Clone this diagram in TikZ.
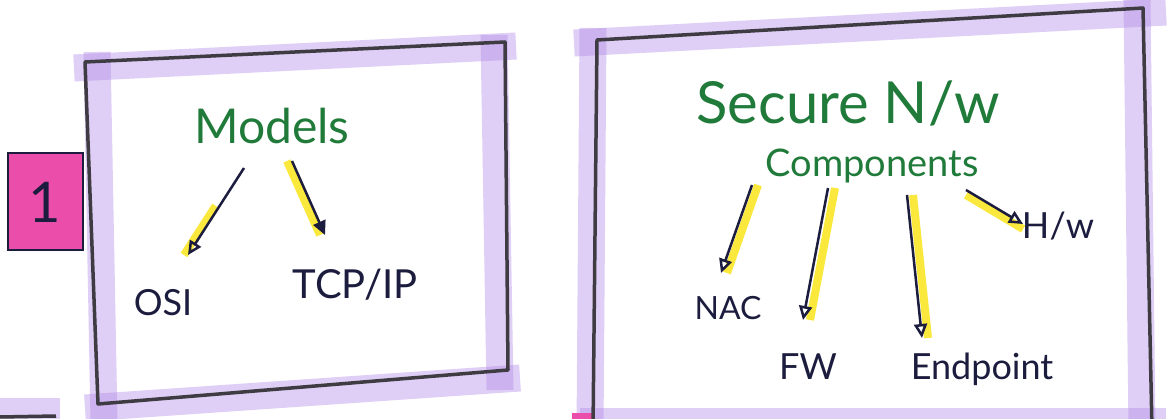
\documentclass[tikz,border=0pt]{standalone}
\usepackage{fontspec}
\setmainfont{Lato}
\usepackage{tikz}
\usetikzlibrary{arrows.meta}
\definecolor{ink}{RGB}{28, 28, 62}
\definecolor{frameline}{RGB}{62, 60, 66}
\definecolor{lilac}{RGB}{180, 140, 232}
\definecolor{marker}{RGB}{250, 232, 60}
\definecolor{greenink}{RGB}{32, 122, 58}
\definecolor{tabpink}{RGB}{234, 78, 170}

\begin{document}
\begin{tikzpicture}[x=1pt,y=-1pt,
  frame/.style={draw=frameline,line width=3.5pt,line join=round},
  band/.style={draw=lilac,opacity=0.42,line width=27pt},
  hl/.style={draw=marker,line width=8pt},
  arr/.style={draw=ink,line width=2.5pt,-{Triangle[open,length=14pt,width=13pt]}},
  head/.style={text=greenink,font=\fontsize{48}{54}\selectfont},
  lbl/.style={text=ink,font=\fontsize{36}{40}\selectfont},
  tabbox/.style={draw=ink,line width=2pt,fill=tabpink,minimum width=75pt,minimum height=97pt,text=ink,font=\fontsize{56}{60}\selectfont}
]
\clip (0,0) rectangle (1174,419);
\fill[white] (0,0) rectangle (1174,419);
% lilac marker bands
\draw[band] (74,68) -- (516,46);
\draw[band] (97,52) -- (104,422);
\draw[band] (494,35) -- (500,390);
\draw[band] (85,408) -- (520,378);
\draw[band] (574,43) -- (1166,12);
\draw[band] (593,28) -- (590,430);
\draw[band] (1137,0) -- (1142,430);
\draw[band] (580,421) -- (1166,421);
\fill[lilac,opacity=0.42] (0,398) rectangle (60,419);
\fill[tabpink] (572,413) rectangle (594,419);
% frames
\draw[frame] (0,417) -- (56,416);
\draw[frame] (85,62) -- (505,42) -- (508,370) -- (98,404) -- cycle;
\draw[frame] (593,430) -- (597,40) -- (1143,8) -- (1152,430);

\node[tabbox] (tab) at (45,202) {1};

\node[head] (models) at (272,126) {Models};
\node[lbl] (osi) at (163,303) {OSI};
\node[lbl,font=\fontsize{40}{44}\selectfont] (tcp) at (355,285) {TCP/IP};
\draw[hl,transform canvas={xshift=-4pt},shorten <=45pt] ([shift={(-28,42)}]models.center) -- ([shift={(25,-48)}]osi.center);
\draw[arr] ([shift={(-28,42)}]models.center) -- ([shift={(25,-48)}]osi.center);
\draw[hl,transform canvas={xshift=-5pt}] ([shift={(20,35)}]models.center) -- ([shift={(-30,-50)}]tcp.center);
\draw[arr,-{Triangle[length=14pt,width=13pt]}] ([shift={(20,35)}]models.center) -- ([shift={(-30,-50)}]tcp.center);

\node[head,font=\fontsize{58}{62}\selectfont] (secure) at (848,103) {Secure N/w};
\node[head,font=\fontsize{38}{42}\selectfont] (comp) at (872,166) {Components};
\node[lbl,font=\fontsize{32}{36}\selectfont] (nac) at (728,308) {NAC};
\node[lbl] (fw) at (808,367) {FW};
\node[lbl] (endp) at (982,369) {Endpoint};
\node[lbl] (hw) at (1058,226) {H/w};
\draw[hl,transform canvas={xshift=6pt}] ([shift={(-120,19)}]comp.center) -- ([shift={(-7,-35)}]nac.center);
\draw[arr] ([shift={(-120,19)}]comp.center) -- ([shift={(-7,-35)}]nac.center);
\draw[hl,transform canvas={xshift=7pt}] ([shift={(-44,22)}]comp.center) -- ([shift={(-5,-47)}]fw.center);
\draw[arr] ([shift={(-44,22)}]comp.center) -- ([shift={(-5,-47)}]fw.center);
\draw[hl,transform canvas={xshift=6pt}] ([shift={(35,29)}]comp.center) -- ([shift={(-60,-31)}]endp.center);
\draw[arr] ([shift={(35,29)}]comp.center) -- ([shift={(-60,-31)}]endp.center);
\draw[hl,transform canvas={yshift=-5pt}] ([shift={(94,24)}]comp.center) -- ([shift={(-35,-2)}]hw.center);
\draw[arr] ([shift={(94,24)}]comp.center) -- ([shift={(-35,-2)}]hw.center);
\end{tikzpicture}
\end{document}
